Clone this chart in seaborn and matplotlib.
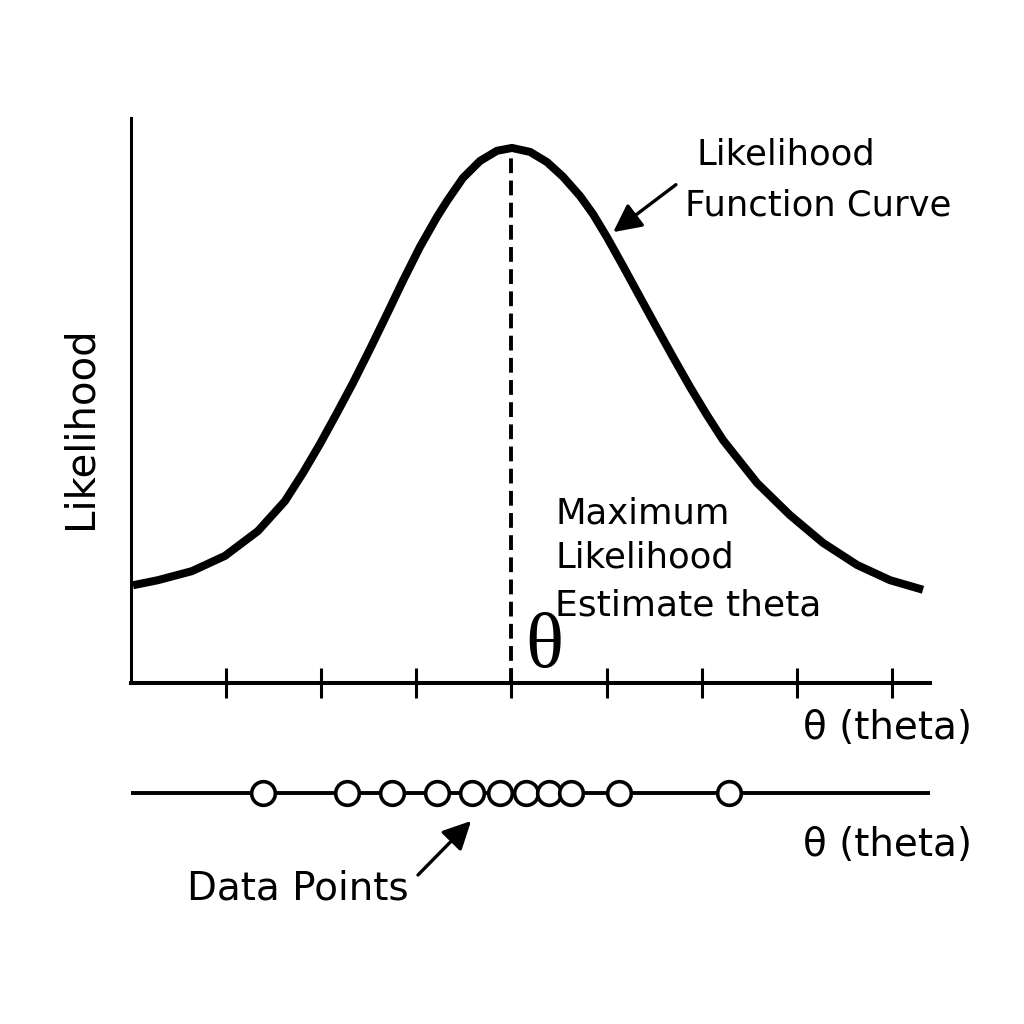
import matplotlib
matplotlib.use("Agg")
import pandas as pd
import seaborn as sns
import matplotlib.pyplot as plt
from matplotlib.patches import FancyArrowPatch

# curve (theta units, likelihood 0..1)
kurva_theta = [0.021, 0.284, 0.641, 0.988, 1.335, 1.619, 1.809, 1.987, 2.166, 2.334,
               2.513, 2.692, 2.860, 3.039, 3.218, 3.323, 3.491, 3.670, 3.849, 4.006,
               4.196, 4.374, 4.543, 4.721, 4.858, 5.005, 5.174, 5.352, 5.531, 5.699,
               5.878, 6.057, 6.225, 6.583, 6.930, 7.277, 7.634, 7.981, 8.328]
kurva_lik = [0.173, 0.182, 0.198, 0.225, 0.269, 0.322, 0.372, 0.423, 0.478, 0.531,
             0.591, 0.653, 0.712, 0.772, 0.825, 0.853, 0.894, 0.924, 0.942, 0.947,
             0.940, 0.922, 0.896, 0.862, 0.830, 0.789, 0.738, 0.683, 0.628, 0.577,
             0.524, 0.474, 0.430, 0.354, 0.297, 0.248, 0.209, 0.182, 0.165]
mle_theta = 4.0
mle_lik = 0.947
ticks = [1, 2, 3, 4, 5, 6, 7, 8]
datapunkter = [1.39, 2.27, 2.74, 3.22, 3.59, 3.88, 4.15, 4.40, 4.63, 5.13, 6.29]

sns.set_style("white")
plt.rcParams['font.family'] = ['DejaVu Sans']
plt.rcParams['text.color'] = 'black'

fig = plt.figure(figsize=(10.24, 10.24), dpi=100)
ax = fig.add_axes([131/1024, 1 - 683/1024, 799/1024, 565/1024])
ax2 = fig.add_axes([131/1024, 1 - 813/1024, 799/1024, 40/1024])

df = pd.DataFrame({"theta": kurva_theta, "lik": kurva_lik})
sns.lineplot(data=df, x="theta", y="lik", ax=ax, color="black", linewidth=5.8,
             solid_joinstyle="round", solid_capstyle="butt")
ax.plot([mle_theta, mle_theta], [0, mle_lik], color="black", linewidth=2.8,
        linestyle=(0, (3.8, 1.9)))

ax.set_xlim(0, 799/95.1)
ax.set_ylim(0, 1)
ax.set_xticks(ticks)
ax.set_xticklabels([])
ax.set_yticks([])
ax.tick_params(axis="x", bottom=True, direction="inout", length=21, width=2.2,
               color="black")
for s in ["top", "right"]:
    ax.spines[s].set_visible(False)
ax.spines["left"].set_linewidth(2.2)
ax.spines["bottom"].set_linewidth(2.9)
ax.spines["left"].set_color("black")
ax.spines["bottom"].set_color("black")
ax.set_xlabel("")
ax.set_ylabel("")

fig.text(80/1024, 1 - 428/1024, "Likelihood", rotation=90, ha="center", va="center",
         fontsize=29)
fig.text(972/1024, 1 - 728/1024, "θ (theta)", ha="right", va="center", fontsize=28)
fig.text(972/1024, 1 - 845/1024, "θ (theta)", ha="right", va="center", fontsize=28)

ax.text(5.95, 0.935, "Likelihood", ha="left", va="center", fontsize=25.5)
ax.text(5.83, 0.846, "Function Curve", ha="left", va="center", fontsize=25.5)
ax.annotate("", xy=(5.07, 0.798), xytext=(5.73, 0.882),
            arrowprops=dict(arrowstyle="-|>,head_length=0.9,head_width=0.45",
                            color="black", lw=2.4, shrinkA=0, shrinkB=0,
                            mutation_scale=19))

ax.text(4.46, 0.300, "Maximum", ha="left", va="center", fontsize=25.5)
ax.text(4.46, 0.222, "Likelihood", ha="left", va="center", fontsize=25.5)
ax.text(4.46, 0.137, "Estimate theta", ha="left", va="center", fontsize=26)
ax.text(4.35, 0.062, "θ", ha="center", va="center", fontsize=57,
        family="Liberation Serif")

# data points strip
ax2.axhline(0, color="black", linewidth=2.8, zorder=1)
pdf = pd.DataFrame({"theta": datapunkter, "y": [0] * len(datapunkter)})
sns.scatterplot(data=pdf, x="theta", y="y", ax=ax2, s=290, color="white",
                edgecolor="black", linewidth=2.6, zorder=3, clip_on=False)
ax2.set_xlim(0, 799/95.1)
ax2.set_ylim(-1, 1)
ax2.set_axis_off()

fig.text(298/1024, 1 - 888/1024, "Data Points", ha="center", va="center", fontsize=28)
fig.patches.append(FancyArrowPatch(
    (416/1024, 1 - 877/1024), (473/1024, 1 - 819/1024), transform=fig.transFigure,
    arrowstyle="-|>,head_length=0.9,head_width=0.45", color="black", lw=2.4,
    mutation_scale=19))

fig.savefig("out.png", dpi=100, facecolor="white")
